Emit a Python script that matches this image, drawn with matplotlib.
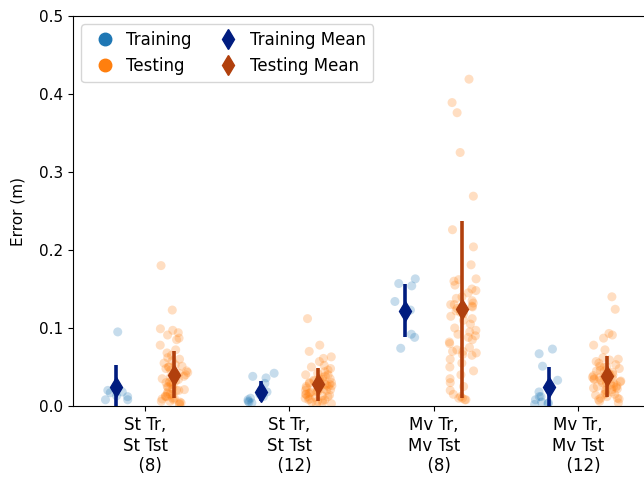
import numpy as np
import pandas as pd
import matplotlib
matplotlib.use("Agg")
import matplotlib.pyplot as plt
from matplotlib.lines import Line2D
import seaborn as sns

# conditions on the x axis
conditions = ["St Tr,\nSt Tst\n  (8)", "St Tr,\nSt Tst\n  (12)",
              "Mv Tr,\nMv Tst\n  (8)", "Mv Tr,\nMv Tst\n  (12)"]

# per-sample errors (m)
train_1 = [0.095, 0.018, 0.017, 0.013, 0.012, 0.008, 0.008, 0.020]
test_1 = [0.180, 0.123, 0.099, 0.097, 0.094, 0.091, 0.087, 0.085, 0.078, 0.072,
          0.068, 0.065, 0.062, 0.060, 0.058, 0.055, 0.053, 0.051, 0.050, 0.048,
          0.046, 0.045, 0.043, 0.042, 0.040, 0.038, 0.037, 0.035, 0.034, 0.032,
          0.031, 0.030, 0.028, 0.027, 0.025, 0.024, 0.022, 0.021, 0.020, 0.018,
          0.016, 0.015, 0.013, 0.012, 0.010, 0.009, 0.008, 0.006, 0.005, 0.004,
          0.003, 0.002, 0.015, 0.020, 0.030, 0.040, 0.050, 0.010, 0.006, 0.012]
train_2 = [0.042, 0.038, 0.036, 0.029, 0.018, 0.015, 0.012, 0.008, 0.006, 0.004,
           0.010, 0.005]
test_2 = [0.112, 0.078, 0.070, 0.063, 0.061, 0.057, 0.052, 0.050, 0.048, 0.046,
          0.044, 0.042, 0.040, 0.038, 0.037, 0.035, 0.034, 0.032, 0.031, 0.030,
          0.029, 0.028, 0.027, 0.026, 0.025, 0.024, 0.023, 0.022, 0.021, 0.020,
          0.019, 0.018, 0.017, 0.016, 0.015, 0.014, 0.013, 0.012, 0.011, 0.010,
          0.009, 0.008, 0.007, 0.006, 0.005, 0.004, 0.003, 0.002, 0.015, 0.020,
          0.025, 0.030, 0.035, 0.012, 0.008, 0.018, 0.022, 0.028, 0.033, 0.040]
train_3 = [0.163, 0.157, 0.154, 0.134, 0.123, 0.088, 0.092, 0.074]
test_3 = [0.419, 0.389, 0.376, 0.325, 0.269, 0.226, 0.204, 0.181,
          0.163, 0.162, 0.160, 0.155, 0.150, 0.148, 0.145, 0.140, 0.138, 0.135,
          0.132, 0.130, 0.130, 0.128, 0.127, 0.125, 0.122, 0.120, 0.118, 0.115,
          0.112, 0.110, 0.105, 0.100, 0.097, 0.095, 0.092, 0.090, 0.088, 0.085,
          0.082, 0.080, 0.075, 0.072, 0.070, 0.070, 0.068, 0.066, 0.065, 0.060,
          0.055, 0.050, 0.045, 0.040, 0.035, 0.030, 0.025, 0.020, 0.015, 0.012,
          0.010, 0.008, 0.008, 0.010]
train_4 = [0.073, 0.067, 0.051, 0.033, 0.018, 0.012, 0.005, 0.004, 0.002, 0.008,
           0.003, 0.012]
test_4 = [0.140, 0.124, 0.093, 0.091, 0.087, 0.078, 0.072, 0.062, 0.059, 0.057,
          0.055, 0.053, 0.051, 0.050, 0.048, 0.046, 0.045, 0.043, 0.042, 0.040,
          0.039, 0.038, 0.037, 0.036, 0.035, 0.034, 0.033, 0.032, 0.031, 0.030,
          0.029, 0.028, 0.027, 0.026, 0.025, 0.024, 0.023, 0.022, 0.021, 0.020,
          0.018, 0.016, 0.015, 0.014, 0.012, 0.010, 0.009, 0.008, 0.006, 0.004,
          0.030, 0.035, 0.040, 0.045, 0.025, 0.020, 0.050, 0.015, 0.010, 0.060]

# means and error-bar ends
train_mean = [0.024, 0.018, 0.122, 0.024]
train_lo = [-0.005, 0.006, 0.088, -0.002]
train_hi = [0.052, 0.032, 0.157, 0.050]
test_mean = [0.040, 0.028, 0.124, 0.038]
test_lo = [0.010, 0.006, 0.010, 0.011]
test_hi = [0.071, 0.049, 0.237, 0.064]

train_sets = [train_1, train_2, train_3, train_4]
test_sets = [test_1, test_2, test_3, test_4]

rows = []
for c, tr, te in zip(conditions, train_sets, test_sets):
    rows += [(c, "Training", v) for v in tr]
    rows += [(c, "Testing", v) for v in te]
df = pd.DataFrame(rows, columns=["cond", "set", "error"])

plt.rcParams["font.size"] = 12
fig = plt.figure(figsize=(6.44, 4.83), dpi=100)
ax = fig.add_axes([73 / 644, 77 / 483, 577 / 644, 390 / 483])

np.random.seed(3)
sns.stripplot(data=df, x="cond", y="error", hue="set", order=conditions,
              hue_order=["Training", "Testing"], palette=["#1f77b4", "#ff7f0e"],
              dodge=True, jitter=0.2, alpha=0.25, size=6.5, linewidth=0,
              legend=False, ax=ax)

x = np.arange(len(conditions))
tm = np.array(train_mean)
sm = np.array(test_mean)
ax.errorbar(x - 0.2, tm, yerr=[tm - np.array(train_lo), np.array(train_hi) - tm],
            fmt="d", color="#001c7f", ms=10, elinewidth=2.6, capsize=0, zorder=5)
ax.errorbar(x + 0.2, sm, yerr=[sm - np.array(test_lo), np.array(test_hi) - sm],
            fmt="d", color="#b1400d", ms=10, elinewidth=2.6, capsize=0, zorder=5)

ax.set_xlim(-0.5, 3.5)
ax.set_ylim(0, 0.5)
ax.set_xlabel("")
ax.set_ylabel("Error (m)", fontsize=11, labelpad=10)
ax.tick_params(labelsize=11)
ax.set_xticks(x)
ax.set_xticklabels(conditions, fontsize=12)
ax.spines["right"].set_visible(False)

handles = [
    Line2D([], [], marker="o", ls="", color="#1f77b4", ms=9, label="Training"),
    Line2D([], [], marker="o", ls="", color="#ff7f0e", ms=9, label="Testing"),
    Line2D([], [], marker="d", ls="", color="#001c7f", ms=10, label="Training Mean"),
    Line2D([], [], marker="d", ls="", color="#b1400d", ms=10, label="Testing Mean"),
]
ax.legend(handles=handles, loc="upper left", ncol=2, fontsize=12,
          handletextpad=0.3, columnspacing=1.2)

fig.savefig("out.png", dpi=100)
